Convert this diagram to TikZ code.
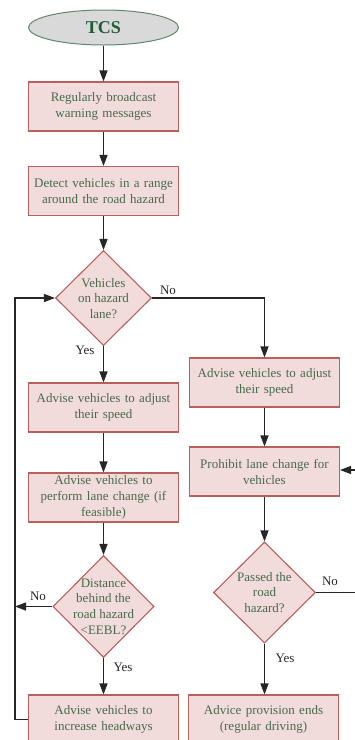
\documentclass[tikz,border=0pt]{standalone}
\usepackage{fontspec}
\setmainfont{Liberation Serif}
\usetikzlibrary{shapes.geometric,arrows.meta}
\definecolor{boxfill}{HTML}{F2DCDB}
\definecolor{boxdraw}{HTML}{B8605C}
\definecolor{txt}{HTML}{476A4C}
\definecolor{tcstxt}{HTML}{1F5C36}
\definecolor{ellfill}{HTML}{D9D9D9}
\definecolor{elldraw}{HTML}{5F8A68}
\definecolor{linec}{HTML}{262626}
\tikzset{
  stepbox/.style={draw=boxdraw, fill=boxfill, line width=1.1pt, rectangle, minimum width=150pt, minimum height=49pt, inner sep=0pt, text width=146pt, align=center, text=txt, font=\fontsize{13}{16}\selectfont},
  decide/.style={draw=boxdraw, fill=boxfill, line width=1.1pt, diamond, inner sep=0pt},
  decidetext/.style={align=center, text=txt, font=\fontsize{13}{15.7}\selectfont, inner sep=0pt},
  flow/.style={draw=linec, line width=1.3pt, -{Triangle[length=11pt,width=8pt]}},
  plainline/.style={draw=linec, line width=1.3pt},
  lbl/.style={text=linec, font=\fontsize{13}{15}\selectfont, inner sep=0pt}
}
\begin{document}
\begin{tikzpicture}[x=1pt,y=-1pt]
\useasboundingbox (0,0) rectangle (355,740);
\fill[white] (0,0) rectangle (355,740);
\clip (0,0) rectangle (355,740);

\node[ellipse, draw=elldraw, fill=ellfill, line width=1pt, minimum width=150pt, minimum height=35pt, inner sep=0pt, text=tcstxt, font=\fontsize{18}{20}\selectfont\bfseries] (tcs) at (103.5,27.5) {TCS};
\node[stepbox] (b1) at (103.5,106.5) {Regularly broadcast\\warning messages};
\node[stepbox] (b2) at (103.5,191) {Detect vehicles in a range\\around the road hazard};
\node[decide, minimum width=96pt, minimum height=95pt] (d1) at (103.5,298) {};
\node[decidetext] (d1t) at (103.5,298.5) {Vehicles\\on hazard\\lane?};
\node[stepbox] (b3) at (103.5,407.5) {Advise vehicles to adjust\\their speed};
\node[stepbox] (b4) at (103.5,497.5) {Advise vehicles to\\perform lane change (if\\feasible)};
\node[decide, minimum width=101pt, minimum height=102pt] (d2) at (103.5,606.5) {};
\node[decidetext] (d2t) at (103.5,606.5) {Distance\\behind the\\road hazard\\<EEBL?};
\node[stepbox] (b5) at (103.5,719.5) {Advise vehicles to\\increase headways};

\node[stepbox] (r1) at (264.5,382.5) {Advise vehicles to adjust\\their speed};
\node[stepbox] (r2) at (264.5,471.5) {Prohibit lane change for\\vehicles};
\node[decide, minimum width=102pt, minimum height=101pt] (d3) at (264.5,592.5) {};
\node[decidetext] (d3t) at (264.5,592.5) {Passed the\\road\\hazard?};
\node[stepbox] (r3) at (263.5,719.5) {Advice provision ends\\(regular driving)};

\coordinate (leftrail) at (15,719.5);
\coordinate (nocorner) at (264.5,298);
\coordinate (rightout) at (360,592.5);
\coordinate (rightin) at (360,470);

\draw[flow] (tcs) -- (b1);
\draw[flow] (b1) -- (b2);
\draw[flow] (b2) -- (d1);
\draw[flow] (d1.east) -- (nocorner) -- (r1.north);
\draw[flow] (d1) -- (b3);
\draw[flow] (b3) -- (b4);
\draw[flow] (b4) -- (d2);
\draw[flow] (d2) -- (b5);
\draw[flow] (d2.west) -- (d2.west -| leftrail);
\draw[flow] (b5.west) -- (leftrail) |- (d1.west);
\draw[flow] (r1) -- (r2);
\draw[flow] (r2) -- (d3);
\draw[flow] (d3.south) -- (d3.south |- r3.north);
\draw[plainline] (d3.east) -- (rightout);
\draw[flow] (rightin) -- (rightin -| r2.east);

\node[lbl] (l1) at (168,290) {No};
\node[lbl] (l2) at (85,350) {Yes};
\node[lbl] (l3) at (38,596) {No};
\node[lbl] (l4) at (123,667) {Yes};
\node[lbl] (l5) at (330,581) {No};
\node[lbl] (l6) at (285,658) {Yes};
\end{tikzpicture}
\end{document}
